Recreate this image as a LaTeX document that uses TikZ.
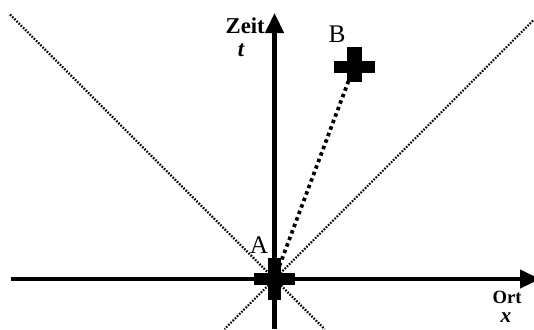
\documentclass[tikz,border=0pt]{standalone}
\usepackage{fontspec}
\setmainfont{Liberation Serif}
\usetikzlibrary{arrows.meta}
\begin{document}
\begin{tikzpicture}[x=0.75pt,y=-0.75pt,
  axis/.style={line width=3.4pt,-{Triangle[width=13.5pt,length=15pt]}},
  cone/.style={line width=1.6pt,dash pattern=on 1.2pt off 1.1pt},
  worldline/.style={line width=2.8pt,dash pattern=on 2.6pt off 2.6pt},
  lbl/.style={inner sep=0pt,anchor=base,font=\fontsize{19}{19}\selectfont},
  axlbl/.style={inner sep=0pt,anchor=base,font=\bfseries\fontsize{17}{17}\selectfont},
  axvar/.style={inner sep=0pt,anchor=base,font=\bfseries\itshape\fontsize{17}{17}\selectfont}]
\useasboundingbox (0,0) rectangle (534,329);
\coordinate (O) at (274.5,279);
\coordinate (B) at (354.5,65);
\coordinate (xstart) at (11,279);
\coordinate (xend) at (540,279);
\coordinate (tstart) at (274.5,329);
\coordinate (tend) at (274.5,13);
\coordinate (c1a) at (10,14.5);
\coordinate (c1b) at (324.5,329);
\coordinate (c2a) at (533,20.5);
\coordinate (c2b) at (224.5,329);
% light cone
\draw[cone] (c1a) -- (c1b);
\draw[cone] (c2a) -- (c2b);
% axes
\draw[axis] (xstart) -- (xend);
\draw[axis] (tstart) -- (tend);
% world line
\draw[worldline] (O) -- (B);
% events
\fill (O) ++(-20.5,-6) rectangle ++(41,12);
\fill (O) ++(-6.5,-21) rectangle ++(13,42);
\fill (B) ++(-20.5,-4) rectangle ++(41,12);
\fill (B) ++(-7.5,-18) rectangle ++(15,35);
% labels
\node[lbl] (labA) at (259,253) {A};
\node[lbl] (labB) at (337,42) {B};
\node[axlbl,anchor=base east] (zeit) at (265,33) {Zeit};
\node[axvar] (tl) at (241,56) {t};
\node[axlbl,font=\bfseries\fontsize{14}{14}\selectfont] (ort) at (507,303) {Ort};
\node[axvar,font=\bfseries\itshape\fontsize{16}{16}\selectfont] (xl) at (506,322) {x};
\end{tikzpicture}
\end{document}
